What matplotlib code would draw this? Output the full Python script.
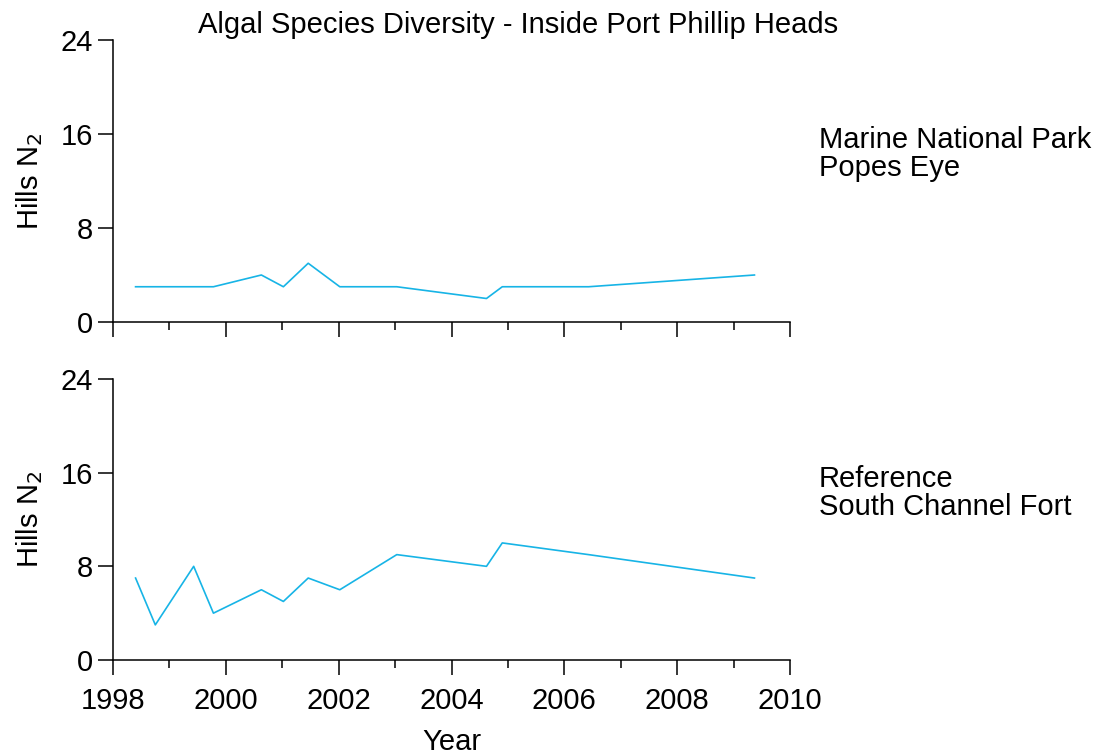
import matplotlib
matplotlib.use("Agg")
import matplotlib.pyplot as plt
from matplotlib.ticker import MultipleLocator

plt.rcParams['font.family'] = ['Liberation Sans', 'DejaVu Sans']

YEARS = [1998.40, 1998.75, 1999.43, 1999.78, 2000.63, 2001.02, 2001.46,
         2002.02, 2003.03, 2004.62, 2004.90, 2006.43, 2009.37]
POPES_EYE = [3, 3, 3, 3, 4, 3, 5, 3, 3, 2, 3, 3, 4]
SOUTH_CHANNEL = [7, 3, 8, 4, 6, 5, 7, 6, 9, 8, 10, 9, 7]

TITLE = "Algal Species Diversity - Inside Port Phillip Heads"
SITES = ["Marine National Park\nPopes Eye", "Reference\nSouth Channel Fort"]
LINE_COLOR = "#17B4E6"
FS = 21

W, H = 1099, 755
fig = plt.figure(figsize=(W / 100, H / 100), dpi=100)

def px_axes(left, top, right, bottom):
    return fig.add_axes([left / W, 1 - bottom / H, (right - left) / W, (bottom - top) / H])

ax1 = px_axes(113, 40, 790, 322)
ax2 = px_axes(113, 379, 790, 660)

for ax, vals, site in [(ax1, POPES_EYE, SITES[0]), (ax2, SOUTH_CHANNEL, SITES[1])]:
    ax.plot(YEARS, vals, color=LINE_COLOR, lw=1.2)
    ax.set_xlim(1998, 2010)
    ax.set_ylim(0, 24)
    ax.set_yticks([0, 8, 16, 24])
    ax.xaxis.set_major_locator(MultipleLocator(2))
    ax.xaxis.set_minor_locator(MultipleLocator(1))
    for s in ["top", "right"]:
        ax.spines[s].set_visible(False)
    for s in ["left", "bottom"]:
        ax.spines[s].set_linewidth(1.1)
    ax.tick_params(which="major", direction="out", length=10.5, width=1.1,
                   labelsize=FS, pad=4)
    ax.tick_params(axis="x", which="major", pad=9)
    ax.tick_params(which="minor", direction="out", length=5.5, width=1.1)
    ax.set_ylabel("Hills N$_2$", fontsize=FS, labelpad=11)
    ax.text(1.043, 0.695, site, transform=ax.transAxes, fontsize=FS,
            va="top", ha="left", linespacing=1.0)

ax1.tick_params(axis="x", labelbottom=False)
ax2.set_xlabel("Year", fontsize=FS, labelpad=9)
fig.text(518 / W, 1 - 25 / H, TITLE, fontsize=FS, ha="center", va="center")

fig.savefig("out.png", dpi=100)
